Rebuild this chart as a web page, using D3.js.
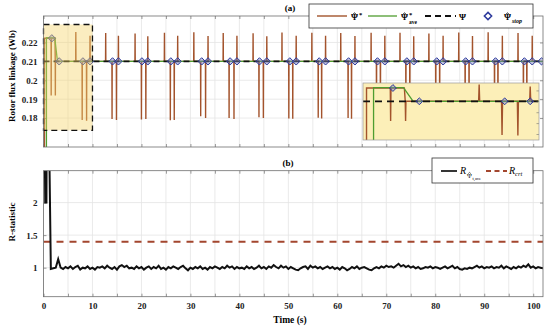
<!DOCTYPE html>
<html>
<head>
<meta charset="utf-8">
<script src="https://cdn.jsdelivr.net/npm/d3@7"></script>
<style>
  body { margin: 0; background: #fff; }
  text { font-family: "Liberation Serif", "DejaVu Serif", serif; }
</style>
</head>
<body>
<script>
// ---- data ----
// start-up transient of the estimate (Wb)
var initT = [0, 0.2, 0.2, 1.55, 1.57, 1.59, 2.35, 2.4, 2.42, 2.44];
var initV = [0.16, 0.16, 0.2222, 0.2222, 0.192, 0.2222, 0.2222, 0.21, 0.192, 0.21];
// averaged estimate
var aveT = [0, 0.6, 0.6, 2.3, 2.85, 102];
var aveV = [0.16, 0.16, 0.2225, 0.2225, 0.21, 0.21];
// true flux
var psiTrue = 0.21;
// periodic restart spikes of the estimate
var tallT = [6.6, 12.7, 18.7, 24.7, 30.7, 36.7, 42.8, 48.7, 54.8, 60.7, 66.9, 72.8, 78.7, 84.8, 90.8, 96.9];
var tallV = [0.2255, 0.2250, 0.2248, 0.2252, 0.2254, 0.2250, 0.2249, 0.2253, 0.2252, 0.2250, 0.2251, 0.2252, 0.2248, 0.2253, 0.2254, 0.2250];
var dip1T = [7.9, 14.0, 20.0, 25.9, 32.1, 37.9, 44.0, 50.1, 56.1, 62.2, 68.0, 74.0, 80.1, 86.1, 92.1, 98.0];
var dip1V = [0.1790, 0.1795, 0.1792, 0.1788, 0.1810, 0.1800, 0.1805, 0.1798, 0.1802, 0.1800, 0.1806, 0.1800, 0.1797, 0.1802, 0.1792, 0.1800];
var dip2T = [8.8, 14.9, 20.9, 26.7, 33.1, 38.9, 44.9, 50.9, 56.8, 62.9, 68.8, 74.8, 80.9, 86.9, 92.8, 98.7];
var dip2V = [0.1786, 0.1790, 0.1795, 0.1790, 0.1800, 0.1795, 0.1800, 0.1796, 0.1798, 0.1797, 0.1800, 0.1798, 0.1795, 0.1800, 0.1790, 0.1798];
var shortT = [9.5, 15.3, 21.3, 27.4, 33.6, 39.5, 45.6, 51.6, 57.6, 63.6, 69.7, 75.6, 81.6, 87.6, 93.7, 99.8];
var shortV = [0.2236, 0.2235, 0.2233, 0.2236, 0.2234, 0.2236, 0.2233, 0.2235, 0.2236, 0.2234, 0.2236, 0.2233, 0.2235, 0.2234, 0.2236, 0.2235];
// stop points
var stopT = [1.7, 3.2, 8.05, 9.5, 14.1, 15.3, 20.1, 21.3, 26.0, 27.4, 32.3, 33.6, 38.1, 39.5, 44.1, 45.6, 50.3, 51.6,
             56.3, 57.6, 62.3, 63.6, 68.2, 69.7, 74.2, 75.6, 80.3, 81.6, 86.2, 87.6, 92.3, 93.7, 98.2, 99.8, 101.7];
var stopV = [0.2222, 0.21];
// R statistic, transient then every 0.5 s from t = 1.5
var rInitT = [0.25, 0.35, 0.6, 0.65, 1.15];
var rInitV = [3.0, 2.0, 2.0, 3.0, 3.0];
var rStart = 1.5, rStep = 0.5;
var rVals = [
  0.98, 0.99, 1.00, 1.13, 1.00, 0.98, 1.01, 0.99, 1.02, 0.98,
  1.01, 1.03, 0.97, 1.00, 0.99, 1.02, 0.98, 1.00, 0.97, 1.01,
  1.00, 1.02, 0.99, 1.03, 1.00, 0.98, 1.01, 0.97, 1.02, 1.04,
  1.01, 1.03, 0.99, 1.00, 0.98, 1.02, 0.99, 1.01, 0.97, 1.00,
  1.02, 0.98, 1.01, 0.99, 1.03, 0.98, 1.00, 0.97, 1.01, 0.99,
  1.02, 1.00, 0.98, 1.01, 1.03, 0.99, 0.96, 1.00, 0.98, 1.01,
  0.99, 1.02, 0.98, 1.00, 0.97, 1.01, 0.99, 1.02, 1.00, 0.98,
  1.01, 0.99, 1.03, 1.00, 1.02, 0.98, 1.01, 0.99, 1.00, 0.98,
  1.02, 0.99, 1.01, 0.98, 1.00, 1.03, 0.99, 1.01, 0.98, 1.02,
  1.00, 1.04, 1.01, 0.99, 1.03, 1.00, 1.02, 0.98, 1.01, 0.99,
  0.97, 0.96, 0.99, 1.01, 1.02, 0.98, 1.03, 1.00, 1.02, 0.99,
  1.01, 0.98, 1.00, 1.02, 0.99, 1.01, 0.98, 1.00, 0.97, 1.01,
  0.99, 0.96, 0.98, 1.01, 0.99, 1.02, 0.98, 1.00, 1.01, 0.99,
  0.97, 0.96, 0.99, 1.01, 0.99, 1.02, 1.00, 1.03, 1.01, 1.02,
  1.00, 1.03, 1.06, 1.02, 1.04, 1.01, 1.03, 1.00, 1.02, 0.99,
  1.01, 0.98, 0.99, 1.01, 1.00, 1.02, 0.99, 1.01, 1.00, 0.98,
  1.00, 1.02, 0.99, 1.01, 1.03, 0.99, 1.01, 0.98, 0.97, 0.99,
  0.98, 1.00, 0.99, 1.01, 1.03, 1.00, 1.02, 0.99, 1.01, 1.00,
  1.02, 0.99, 1.01, 1.00, 1.03, 0.99, 1.02, 1.00, 0.98, 1.01,
  0.99, 1.02, 1.00, 1.03, 1.01, 1.05, 1.00, 1.02, 0.99, 1.01,
  1.00, 0.99
];
var rCrt = 1.4;
// ticks
var xTicks = [0, 5, 10, 15, 20, 25, 30, 35, 40, 45, 50, 55, 60, 65, 70, 75, 80, 85, 90, 95, 100];
var topYTicks = [0.18, 0.19, 0.2, 0.21, 0.22];
var botYTicks = [1, 1.5, 2];
var zoomBox = {t0: 0, t1: 10, v0: 0.1735, v1: 0.2295};

// ---- colours ----
var cEst = "#a3532c", cAve = "#4f9d2f", cStop = "#2d3a9c", cCrt = "#a3462e", cGrid = "#e4e4e4", cAxis = "#6e6e6e";

var svg = d3.select("body").append("svg").attr("width", 550).attr("height", 326);

var x = d3.scaleLinear().domain([0, 102]).range([43.5, 543]);
var yTop = d3.scaleLinear().domain([0.1647, 0.234]).range([147, 16]);
var yBot = d3.scaleLinear().domain([0.554, 2.49]).range([296.7, 170.7]);

// estimate series built from the transient + spikes
var spikes = [];
tallT.forEach(function (t, i) {
    spikes.push([t, tallV[i]], [dip1T[i], dip1V[i]], [dip2T[i], dip2V[i]], [shortT[i], shortV[i]]);
});
spikes.sort(function (a, b) { return a[0] - b[0]; });
var est = initT.map(function (t, i) { return [t, initV[i]]; });
spikes.forEach(function (s) {
    est.push([s[0] - 0.03, psiTrue], [s[0], s[1]], [s[0] + 0.03, psiTrue]);
});
est.push([102, psiTrue]);
var ave = aveT.map(function (t, i) { return [t, aveV[i]]; });
var stops = stopT.map(function (t, i) { return [t, i < stopV.length ? stopV[i] : psiTrue]; });

var rData = rInitT.map(function (t, i) { return [t, rInitV[i]]; });
rVals.forEach(function (v, i) { rData.push([rStart + i * rStep, v]); });

function frame(y, yTicks, fmt, showX) {
    var r0 = y.range();
    var top = r0[1], bot = r0[0], left = x.range()[0], right = x.range()[1];
    var g = svg.append("g");
    g.selectAll(".vg").data(xTicks).enter().append("line")
        .attr("x1", function (d) { return x(d); }).attr("x2", function (d) { return x(d); })
        .attr("y1", top).attr("y2", bot).attr("stroke", cGrid).attr("stroke-width", 0.8);
    g.selectAll(".hg").data(yTicks).enter().append("line")
        .attr("y1", function (d) { return y(d); }).attr("y2", function (d) { return y(d); })
        .attr("x1", left).attr("x2", right).attr("stroke", cGrid).attr("stroke-width", 0.8);

    var ax = [
        {a: d3.axisLeft(y).tickValues(yTicks).tickFormat(fmt), t: "translate(" + left + ",0)"},
        {a: d3.axisRight(y).tickValues(yTicks).tickFormat(""), t: "translate(" + right + ",0)"},
        {a: d3.axisBottom(x).tickValues(xTicks).tickFormat(showX ? function (d) { return d % 10 === 0 ? d : ""; } : ""),
            t: "translate(0," + bot + ")"},
        {a: d3.axisTop(x).tickValues(xTicks).tickFormat(""), t: "translate(0," + top + ")"}
    ];
    ax.forEach(function (o) {
        var a = svg.append("g").attr("transform", o.t)
            .call(o.a.tickSizeInner(-3).tickSizeOuter(0).tickPadding(6));
        a.select(".domain").remove();
        a.selectAll("line").attr("stroke", cAxis).attr("stroke-width", 0.7);
        a.selectAll("text").attr("font-size", "9px").attr("font-weight", "bold").attr("fill", "#222")
            .style("font-family", "'Liberation Serif', serif");
    });
    return {top: top, bot: bot, left: left, right: right};
}

function box(b) {
    svg.append("rect").attr("x", b.left).attr("y", b.top)
        .attr("width", b.right - b.left).attr("height", b.bot - b.top)
        .attr("fill", "none").attr("stroke", cAxis).attr("stroke-width", 0.8);
}

function clip(id, x0, y0, w, h) {
    svg.append("clipPath").attr("id", id).append("rect")
        .attr("x", x0).attr("y", y0).attr("width", w).attr("height", h);
}

// Psi with a hat; the hat is a small stroke path (combining mark does not render)
function psiHat(g, px, py, size, bold) {
    g.append("text").attr("x", px).attr("y", py).attr("font-size", size + "px")
        .attr("font-weight", bold ? "bold" : "normal").text("\u03A8");
    var cx = px + size * 0.39, hy = py - size * 0.78, hw = size * 0.2;
    g.append("path")
        .attr("d", "M" + (cx - hw) + "," + (hy + hw * 0.9) + "L" + cx + "," + hy + "L" + (cx + hw) + "," + (hy + hw * 0.9))
        .attr("fill", "none").attr("stroke", "#000").attr("stroke-width", bold ? 0.9 : 0.6);
}

// ================= panel (a) =================
var bA = frame(yTop, topYTicks, function (d) { return +d.toFixed(2); }, false);
clip("clipA", bA.left, bA.top, bA.right - bA.left, bA.bot - bA.top);

function drawFlux(g, sx, sy, dsize, dash) {
    var line = d3.line().x(function (d) { return sx(d[0]); }).y(function (d) { return sy(d[1]); });
    g.append("path").datum(est).attr("d", line).attr("fill", "none")
        .attr("stroke", cEst).attr("stroke-width", 1.4);
    g.append("path").datum(ave).attr("d", line).attr("fill", "none")
        .attr("stroke", cAve).attr("stroke-width", 1.3);
    g.append("line").attr("x1", sx(sx.domain()[0])).attr("x2", sx(sx.domain()[1]))
        .attr("y1", sy(psiTrue)).attr("y2", sy(psiTrue))
        .attr("stroke", "#111").attr("stroke-width", 1.8).attr("stroke-dasharray", dash);
    g.selectAll(".stop").data(stops).enter().append("path")
        .attr("d", d3.symbol(d3.symbolDiamond2, dsize))
        .attr("transform", function (d) { return "translate(" + sx(d[0]) + "," + sy(d[1]) + ")"; })
        .attr("fill", "rgba(120,125,190,0.45)").attr("stroke", cStop).attr("stroke-width", 1);
}

var gA = svg.append("g").attr("clip-path", "url(#clipA)");
drawFlux(gA, x, yTop, 34, "6,4");

// highlighted zoom region
svg.append("rect")
    .attr("x", x(zoomBox.t0)).attr("y", yTop(zoomBox.v1))
    .attr("width", x(zoomBox.t1) - x(zoomBox.t0)).attr("height", yTop(zoomBox.v0) - yTop(zoomBox.v1))
    .attr("fill", "#f6d36a").attr("fill-opacity", 0.42)
    .attr("stroke", "#111").attr("stroke-width", 1.3).attr("stroke-dasharray", "6,4");

// inset
var xIn = d3.scaleLinear().domain([0, 10]).range([363, 539]);
var yIn = d3.scaleLinear().domain([0.1745, 0.2268]).range([140, 83]);
svg.append("rect").attr("x", 363).attr("y", 83).attr("width", 176).attr("height", 57)
    .attr("fill", "#fcefb8");
clip("clipIn", 363, 83, 176, 57);
var gIn = svg.append("g").attr("clip-path", "url(#clipIn)");
drawFlux(gIn, xIn, yIn, 30, "7,5");
var inAx = svg.append("g").attr("transform", "translate(539,0)")
    .call(d3.axisRight(yIn).ticks(6).tickSizeInner(-2.5).tickSizeOuter(0).tickFormat(""));
inAx.select(".domain").remove();
inAx.selectAll("line").attr("stroke", cAxis).attr("stroke-width", 0.6);
svg.append("rect").attr("x", 363).attr("y", 83).attr("width", 176).attr("height", 57)
    .attr("fill", "none").attr("stroke", "#9a9a9a").attr("stroke-width", 0.7);

box(bA);

// y label + title
svg.append("text").attr("transform", "translate(15,76) rotate(-90)").attr("text-anchor", "middle")
    .attr("font-size", "9px").attr("font-weight", "bold").text("Rotor flux linkage (Wb)");
svg.append("text").attr("x", 290).attr("y", 11).attr("text-anchor", "middle")
    .attr("font-size", "9px").attr("font-weight", "bold").text("(a)");

// legend (a)
var lgA = svg.append("g");
lgA.append("rect").attr("x", 309).attr("y", 4).attr("width", 224).attr("height", 24)
    .attr("fill", "#fff").attr("stroke", "#333").attr("stroke-width", 0.8);
lgA.append("line").attr("x1", 317).attr("x2", 347).attr("y1", 16).attr("y2", 16)
    .attr("stroke", cEst).attr("stroke-width", 1.4);
psiHat(lgA, 351, 20, 9, true);
lgA.append("text").attr("x", 359).attr("y", 16.5).attr("font-size", "6.5px").attr("font-weight", "bold").text("*");
lgA.append("line").attr("x1", 368).attr("x2", 397).attr("y1", 16).attr("y2", 16)
    .attr("stroke", cAve).attr("stroke-width", 1.3);
psiHat(lgA, 401, 20, 9, true);
lgA.append("text").attr("x", 409).attr("y", 16.5).attr("font-size", "6.5px").attr("font-weight", "bold").text("*");
lgA.append("text").attr("x", 409).attr("y", 23.5).attr("font-size", "5.5px").attr("font-weight", "bold").text("ave");
lgA.append("line").attr("x1", 425).attr("x2", 456).attr("y1", 16).attr("y2", 16)
    .attr("stroke", "#111").attr("stroke-width", 1.8).attr("stroke-dasharray", "6,4");
lgA.append("text").attr("x", 459).attr("y", 19.5).attr("font-size", "9px").attr("font-weight", "bold").text("\u03A8");
lgA.append("path").attr("d", d3.symbol(d3.symbolDiamond2, 34))
    .attr("transform", "translate(488,16)").attr("fill", "#fff").attr("stroke", cStop).attr("stroke-width", 1.5);
psiHat(lgA, 504, 20, 9, true);
lgA.append("text").attr("x", 512).attr("y", 22.5).attr("font-size", "6px").attr("font-weight", "bold")
    .attr("font-style", "italic").text("stop");

// ================= panel (b) =================
var bB = frame(yBot, botYTicks, function (d) { return d; }, true);
clip("clipB", bB.left, bB.top, bB.right - bB.left, bB.bot - bB.top);
var gB = svg.append("g").attr("clip-path", "url(#clipB)");
gB.append("line").attr("x1", x(0)).attr("x2", x(102)).attr("y1", yBot(rCrt)).attr("y2", yBot(rCrt))
    .attr("stroke", cCrt).attr("stroke-width", 2).attr("stroke-dasharray", "7,6");
gB.append("path").datum(rData)
    .attr("d", d3.line().x(function (d) { return x(d[0]); }).y(function (d) { return yBot(d[1]); }))
    .attr("fill", "none").attr("stroke", "#111").attr("stroke-width", 2);
box(bB);

svg.append("text").attr("transform", "translate(15,222) rotate(-90)").attr("text-anchor", "middle")
    .attr("font-size", "9px").attr("font-weight", "bold").text("R-statistic");
svg.append("text").attr("x", 290).attr("y", 323).attr("text-anchor", "middle")
    .attr("font-size", "9.5px").attr("font-weight", "bold").text("Time (s)");
svg.append("text").attr("x", 288).attr("y", 166).attr("text-anchor", "middle")
    .attr("font-size", "9px").attr("font-weight", "bold").text("(b)");

// legend (b)
var lgB = svg.append("g");
lgB.append("rect").attr("x", 432).attr("y", 158).attr("width", 101).attr("height", 25)
    .attr("fill", "#fff").attr("stroke", "#333").attr("stroke-width", 0.8);
lgB.append("line").attr("x1", 441).attr("x2", 457).attr("y1", 171).attr("y2", 171)
    .attr("stroke", "#111").attr("stroke-width", 1.7);
lgB.append("text").attr("x", 460).attr("y", 174).attr("font-size", "10px").attr("font-style", "italic").text("R");
psiHat(lgB, 467, 177.5, 6.5, false);
lgB.append("text").attr("x", 472.5).attr("y", 179.5).attr("font-size", "4.5px").text("t,ave");
lgB.append("line").attr("x1", 486).attr("x2", 507).attr("y1", 171).attr("y2", 171)
    .attr("stroke", cCrt).attr("stroke-width", 2).attr("stroke-dasharray", "5,3.5");
var r2 = lgB.append("text").attr("x", 509).attr("y", 174).attr("font-size", "10px");
r2.append("tspan").attr("font-style", "italic").text("R");
r2.append("tspan").attr("dy", 2).attr("font-size", "6.5px").attr("font-style", "italic").text("crt");
</script>
</body>
</html>
